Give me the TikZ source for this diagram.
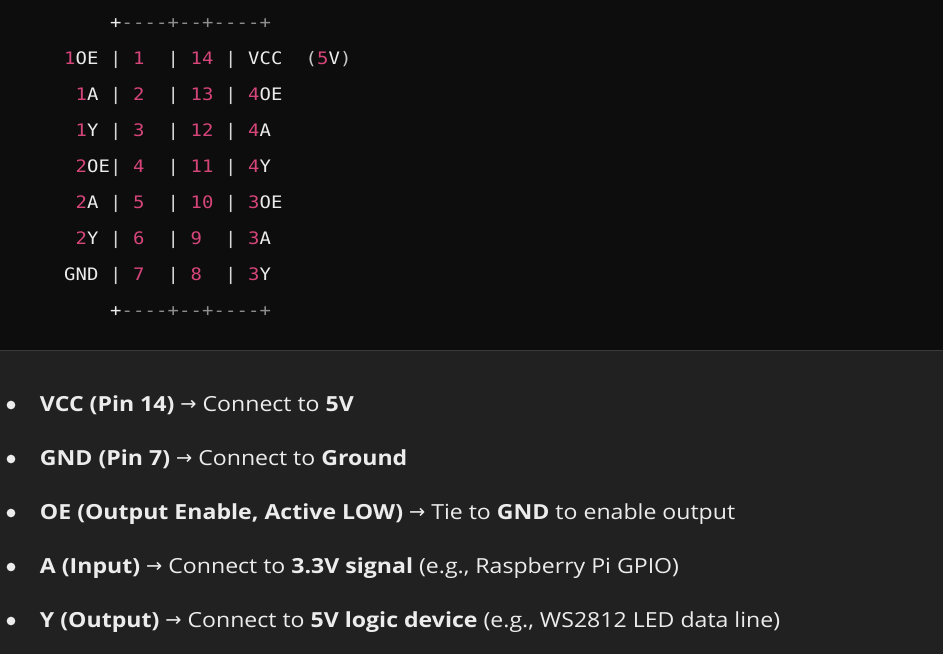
\documentclass[tikz,border=0pt]{standalone}
\usepackage{fontspec}
\setmainfont{Open Sans}[FakeStretch=1.11]
\newfontfamily\codefont{DejaVu Sans Mono}[FakeStretch=1.1]
\newfontfamily\arrowfont{DejaVu Sans}
\definecolor{topbg}{HTML}{0D0D0D}
\definecolor{botbg}{HTML}{212121}
\definecolor{sepline}{HTML}{3A3A3A}
\definecolor{cpink}{HTML}{D6457A}
\definecolor{cwhite}{HTML}{ECECEC}
\definecolor{cpipe}{HTML}{D8D8D8}
\definecolor{cgrey}{HTML}{8E8E8E}
\definecolor{cparen}{HTML}{C8C8C8}
\definecolor{listtext}{HTML}{ECECEC}
\newlength\codecw
\setlength\codecw{8.625pt}
\makeatletter
\newcommand\spreadchars[1]{\@tfor\sc@x:=#1\do{\makebox[\codecw][c]{\sc@x}}}
\makeatother
\newcommand\lpar{(}
\newcommand\rpar{)}
\newcommand\coderow[2]{%
  \foreach \c/\t/\k in {#2}{%
    \node[codetok,text=\k] (r#1c\c) at ({64+11.5*\c},{28+36*#1}) {\expandafter\spreadchars\expandafter{\t}};
  }%
}
\newcommand\arr{{\arrowfont\fontsize{14.5pt}{16pt}\selectfont\raisebox{0.3pt}{→}}}
\tikzset{
  codetok/.style={anchor=base west,inner sep=0pt,outer sep=0pt,
    font=\codefont\fontsize{12.9pt}{15pt}\selectfont},
  listitem/.style={anchor=base west,inner sep=0pt,outer sep=0pt,text=listtext,
    font=\fontsize{15.6pt}{18pt}\selectfont},
  bulletdot/.style={circle,fill=listtext,inner sep=0pt,minimum size=6.5pt},
}
\begin{document}
\begin{tikzpicture}[x=0.75pt,y=-0.75pt]
\useasboundingbox (0,0) rectangle (943,654);
\fill[topbg] (0,0) rectangle (943,350);
\fill[botbg] (0,351) rectangle (943,654);
\draw[sepline,line width=0.75pt] (0,350.5) -- (943,350.5);
% code block
\coderow{0}{4/+/cwhite,5/----+--+----+/cgrey}
\coderow{1}{0/1/cpink,1/OE/cwhite,4/|/cpipe,6/1/cpink,9/|/cpipe,11/14/cpink,14/|/cpipe,16/VCC/cwhite,21/\lpar/cparen,22/5/cpink,23/V/cwhite,24/\rpar/cparen}
\coderow{2}{1/1/cpink,2/A/cwhite,4/|/cpipe,6/2/cpink,9/|/cpipe,11/13/cpink,14/|/cpipe,16/4/cpink,17/OE/cwhite}
\coderow{3}{1/1/cpink,2/Y/cwhite,4/|/cpipe,6/3/cpink,9/|/cpipe,11/12/cpink,14/|/cpipe,16/4/cpink,17/A/cwhite}
\coderow{4}{1/2/cpink,2/OE/cwhite,4/|/cpipe,6/4/cpink,9/|/cpipe,11/11/cpink,14/|/cpipe,16/4/cpink,17/Y/cwhite}
\coderow{5}{1/2/cpink,2/A/cwhite,4/|/cpipe,6/5/cpink,9/|/cpipe,11/10/cpink,14/|/cpipe,16/3/cpink,17/OE/cwhite}
\coderow{6}{1/2/cpink,2/Y/cwhite,4/|/cpipe,6/6/cpink,9/|/cpipe,11/9/cpink,14/|/cpipe,16/3/cpink,17/A/cwhite}
\coderow{7}{0/GND/cwhite,4/|/cpipe,6/7/cpink,9/|/cpipe,11/8/cpink,14/|/cpipe,16/3/cpink,17/Y/cwhite}
\coderow{8}{4/+/cwhite,5/----+--+----+/cgrey}
% list
\node[bulletdot] (b1) at (11,405) {};
\node[bulletdot] (b2) at (11,459) {};
\node[bulletdot] (b3) at (11,513) {};
\node[bulletdot] (b4) at (11,567) {};
\node[bulletdot] (b5) at (11,621) {};
\node[listitem] (i1) at (40,411) {\textbf{VCC (Pin 14)} \arr{} Connect to \textbf{5V}};
\node[listitem] (i2) at (40,465) {\textbf{GND (Pin 7)} \arr{} Connect to \textbf{Ground}};
\node[listitem] (i3) at (40,519) {\textbf{OE (Output Enable, Active LOW)} \arr{} Tie to \textbf{GND} to enable output};
\node[listitem] (i4) at (40,573) {\textbf{A (Input)} \arr{} Connect to \textbf{3.3V signal} (e.g., Raspberry Pi GPIO)};
\node[listitem] (i5) at (40,627) {\textbf{Y (Output)} \arr{} Connect to \textbf{5V logic device} (e.g., WS2812 LED data line)};
\end{tikzpicture}
\end{document}
